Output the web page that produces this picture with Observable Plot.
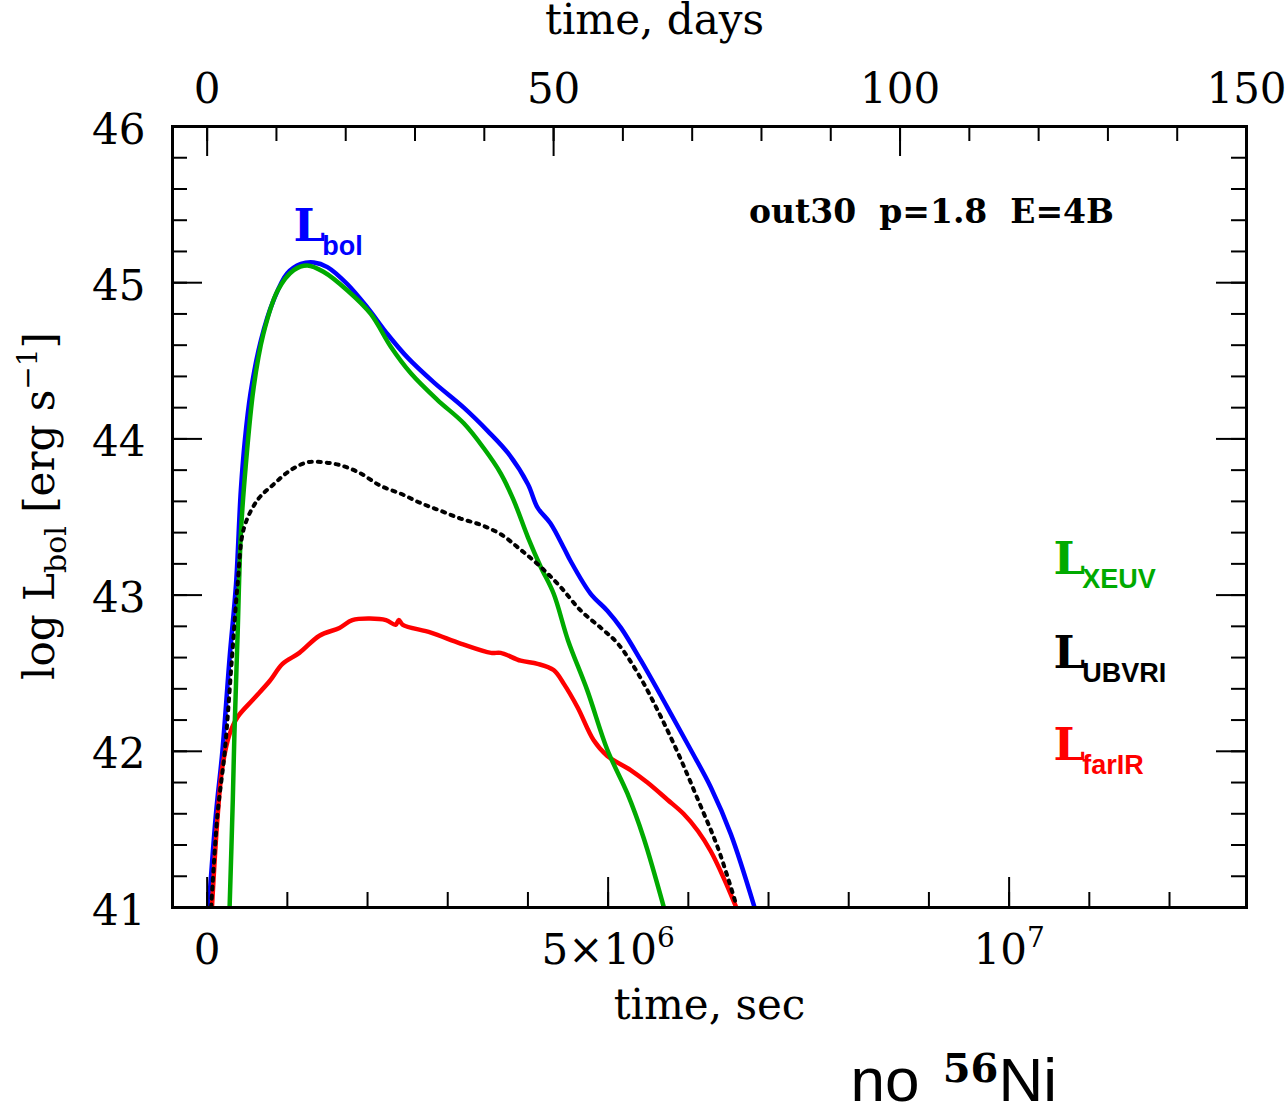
<!DOCTYPE html>
<html><head><meta charset="utf-8">
<script src="https://cdn.jsdelivr.net/npm/d3@7"></script>
<script src="https://cdn.jsdelivr.net/npm/@observablehq/plot@0.6"></script>
<style>html,body{margin:0;padding:0;background:#fff;} svg{display:block}</style>
</head><body><div id="chart"></div>
<script>
// time in units of 10^6 s; log L in erg/s
const tBol   = [0.02, 0.11, 0.19, 0.28, 0.36, 0.42, 0.47, 0.54, 0.67, 0.83, 1.00, 1.17, 1.33, 1.50, 1.75, 2.00, 2.25, 2.50, 2.83, 3.20, 3.50, 3.75, 4.00, 4.12, 4.28, 4.45, 4.53, 4.78, 4.99, 5.16, 5.41, 5.74, 6.03, 6.28, 6.53, 6.82];
const logBol = [41.00, 41.60, 42.00, 42.60, 43.07, 43.67, 43.99, 44.29, 44.63, 44.89, 45.06, 45.12, 45.13, 45.10, 44.99, 44.84, 44.67, 44.52, 44.36, 44.20, 44.05, 43.91, 43.71, 43.56, 43.46, 43.30, 43.22, 43.01, 42.90, 42.79, 42.58, 42.28, 42.01, 41.77, 41.47, 41.01];

const tXEUV   = [0.28, 0.32, 0.34, 0.38, 0.42, 0.48, 0.58, 0.70, 0.88, 1.08, 1.25, 1.45, 1.75, 2.04, 2.29, 2.54, 2.87, 3.20, 3.45, 3.66, 3.82, 4.00, 4.16, 4.32, 4.50, 4.74, 4.99, 5.24, 5.44, 5.69];
const logXEUV = [41.00, 41.69, 42.11, 42.75, 43.39, 43.82, 44.33, 44.67, 44.95, 45.08, 45.11, 45.07, 44.95, 44.80, 44.59, 44.42, 44.25, 44.10, 43.94, 43.78, 43.61, 43.37, 43.18, 43.01, 42.71, 42.39, 42.01, 41.73, 41.45, 41.01];

const tUBVRI   = [0.05, 0.13, 0.22, 0.31, 0.38, 0.46, 0.63, 0.83, 1.04, 1.25, 1.45, 1.67, 1.91, 2.16, 2.41, 2.66, 2.91, 3.16, 3.41, 3.66, 3.91, 4.16, 4.41, 4.66, 4.91, 5.12, 5.37, 5.62, 5.87, 6.12, 6.37, 6.59];
const logUBVRI = [41.00, 41.60, 42.00, 42.60, 43.07, 43.43, 43.61, 43.71, 43.80, 43.85, 43.85, 43.83, 43.78, 43.70, 43.65, 43.59, 43.54, 43.49, 43.45, 43.39, 43.29, 43.18, 43.05, 42.90, 42.79, 42.69, 42.50, 42.26, 41.99, 41.69, 41.38, 41.03];

const tFarIR   = [0.06, 0.13, 0.19, 0.28, 0.38, 0.57, 0.78, 0.94, 1.15, 1.40, 1.65, 1.81, 2.03, 2.23, 2.35, 2.39, 2.44, 2.79, 3.16, 3.54, 3.66, 3.91, 4.12, 4.32, 4.45, 4.62, 4.82, 4.99, 5.28, 5.49, 5.74, 5.94, 6.12, 6.28, 6.44, 6.59];
const logFarIR = [41.00, 41.58, 41.90, 42.11, 42.22, 42.33, 42.45, 42.56, 42.63, 42.74, 42.79, 42.84, 42.85, 42.84, 42.81, 42.84, 42.81, 42.76, 42.69, 42.63, 42.63, 42.58, 42.56, 42.52, 42.43, 42.28, 42.07, 41.97, 41.88, 41.80, 41.69, 41.60, 41.49, 41.36, 41.19, 41.01];

// axis ticks
const xMinorTicks = [0, 1e6, 2e6, 3e6, 4e6, 5e6, 6e6, 7e6, 8e6, 9e6, 10e6, 11e6, 12e6];
const xMajorTicks = [0, 5e6, 1e7];
const xTickLabels = ["0", "5×10^{6}", "10^{7}"];
const topMinorDays = [0, 10, 20, 30, 40, 50, 60, 70, 80, 90, 100, 110, 120, 130, 140, 150];
const topMajorDays = [0, 50, 100, 150];
const topTickLabels = ["0", "50", "100", "150"];
const yMinorTicks = [41, 41.2, 41.4, 41.6, 41.8, 42, 42.2, 42.4, 42.6, 42.8, 43, 43.2, 43.4, 43.6, 43.8, 44, 44.2, 44.4, 44.6, 44.8, 45, 45.2, 45.4, 45.6, 45.8, 46];
const yMajorTicks = [41, 42, 43, 44, 45, 46];
const yTickLabels = ["41", "42", "43", "44", "45", "46"];

const DAY = 86400;
const rows = (t, v) => t.map((d, i) => ({t: d * 1e6, v: v[i]}));

const W = 1285, H = 1106, mL = 172, mR = 39, mT = 126, mB = 199;
const frameW = W - mL - mR, frameH = H - mT - mB;
const serif = "DejaVu Serif";
const sans = "Liberation Sans";
const fs = 42;

const curveLabel = (txt, color, dx, dy) => Plot.text([txt], {
  text: d => d, frameAnchor: "top-left", dx, dy, textAnchor: "start", lineAnchor: "bottom",
  fill: color, fontFamily: serif, fontWeight: "bold", fontSize: 45
});

const lineOpts = {x: "t", y: "v", curve: "catmull-rom", clip: true, strokeLinejoin: "round"};

const plot = Plot.plot({
  width: W, height: H,
  marginLeft: mL, marginRight: mR, marginTop: mT, marginBottom: mB,
  x: {domain: [-5 * DAY, 150 * DAY], axis: null},
  y: {domain: [41, 46], axis: null},
  style: {background: "white", fontFamily: serif, color: "black"},
  marks: [
    Plot.line(rows(tBol, logBol), {...lineOpts, stroke: "#0000ff", strokeWidth: 4.5}),
    Plot.line(rows(tFarIR, logFarIR), {...lineOpts, stroke: "#ff0000", strokeWidth: 4.5}),
    Plot.line(rows(tXEUV, logXEUV), {...lineOpts, stroke: "#00aa00", strokeWidth: 4.5}),
    Plot.line(rows(tUBVRI, logUBVRI), {...lineOpts, stroke: "black", strokeWidth: 4, strokeDasharray: "3,6", strokeLinejoin: "miter"}),

    Plot.frame({stroke: "black", strokeWidth: 3}),
    // bottom ticks
    Plot.tickX(xMinorTicks, {x: d => d, insetTop: frameH - 15, strokeWidth: 2}),
    Plot.tickX(xMajorTicks, {x: d => d, insetTop: frameH - 30, strokeWidth: 2}),
    // top ticks (days)
    Plot.tickX(topMinorDays, {x: d => d * DAY, insetBottom: frameH - 15, strokeWidth: 2}),
    Plot.tickX(topMajorDays, {x: d => d * DAY, insetBottom: frameH - 30, strokeWidth: 2}),
    // left ticks
    Plot.tickY(yMinorTicks, {y: d => d, insetRight: frameW - 15, strokeWidth: 2}),
    Plot.tickY(yMajorTicks, {y: d => d, insetRight: frameW - 30, strokeWidth: 2}),
    // right ticks
    Plot.tickY(yMinorTicks, {y: d => d, insetLeft: frameW - 15, strokeWidth: 2}),
    Plot.tickY(yMajorTicks, {y: d => d, insetLeft: frameW - 30, strokeWidth: 2}),

    // tick labels
    Plot.text(yMajorTicks, {y: d => d, text: (d, i) => yTickLabels[i], frameAnchor: "left", dx: -27, dy: 17,
      textAnchor: "end", lineAnchor: "bottom", fontSize: fs, fill: "black"}),
    Plot.text(xMajorTicks, {x: d => d, text: (d, i) => xTickLabels[i], frameAnchor: "bottom", dy: 56,
      textAnchor: "middle", lineAnchor: "bottom", fontSize: fs, fill: "black"}),
    Plot.text(topMajorDays, {x: d => d * DAY, text: (d, i) => topTickLabels[i], frameAnchor: "top", dy: -24,
      textAnchor: "middle", lineAnchor: "bottom", fontSize: fs, fill: "black"}),

    // axis titles
    Plot.text(["time, sec"], {text: d => d, frameAnchor: "bottom", dy: 111, lineAnchor: "bottom", fontSize: fs, fill: "black"}),
    Plot.text(["time, days"], {text: d => d, frameAnchor: "top", dx: -55, dy: -93, lineAnchor: "bottom", fontSize: fs, fill: "black"}),
    Plot.text(["log L_{bol} [erg s^{−1}]"], {text: d => d, frameAnchor: "left", rotate: -90, dx: -119, dy: -11,
      textAnchor: "middle", lineAnchor: "bottom", fontSize: fs, fill: "black"}),

    // annotations
    Plot.text(["out30\u00a0\u00a0p=1.8\u00a0\u00a0E=4B"], {text: d => d, frameAnchor: "top-left", dx: 759, dy: 96,
      textAnchor: "middle", lineAnchor: "bottom", fontSize: 33, fontWeight: "bold", fill: "black"}),
    curveLabel("L_{bol}", "#0000ff", 121, 114),
    curveLabel("L_{XEUV}", "#00aa00", 881, 447),
    curveLabel("L_{UBVRI}", "black", 881, 541),
    curveLabel("L_{farIR}", "#ff0000", 881, 633),
    Plot.text(["no ^{56}Ni"], {text: d => d, frameAnchor: "bottom-left", dx: 678, dy: 193,
      textAnchor: "start", lineAnchor: "bottom", fontSize: 62, fontFamily: sans, fill: "black"})
  ]
});

// rich text: sub/superscripts
const subL = {size: 27, shift: 14, family: sans, weight: "bold", dx: -3};
const rich = {
  "L_{bol}": {sub: subL},
  "L_{XEUV}": {sub: subL},
  "L_{UBVRI}": {sub: subL},
  "L_{farIR}": {sub: subL},
  "log L_{bol} [erg s^{−1}]": {sub: {size: 30, shift: 12, family: serif}, sup: {size: 28, shift: 17, family: serif}},
  "5×10^{6}": {sup: {size: 28, shift: 17, family: serif}},
  "10^{7}": {sup: {size: 28, shift: 17, family: serif}},
  "no ^{56}Ni": {sup: {size: 40, shift: 19, family: serif, weight: "bold", dx: 6}}
};
d3.select(plot).selectAll("text").each(function () {
  const raw = this.textContent;
  const st = rich[raw];
  if (!st) return;
  const parts = raw.split(/(_\{[^}]*\}|\^\{[^}]*\})/).filter(s => s !== "");
  while (this.firstChild) this.removeChild(this.firstChild);
  let off = 0;
  for (const p of parts) {
    const ts = d3.select(this).append("tspan");
    let target = 0, txt = p, cfg = null;
    if (p.startsWith("_{")) { cfg = st.sub; target = cfg.shift; txt = p.slice(2, -1); }
    else if (p.startsWith("^{")) { cfg = st.sup; target = -cfg.shift; txt = p.slice(2, -1); }
    if (target !== off) ts.attr("dy", target - off);
    off = target;
    if (cfg) {
      ts.attr("font-size", cfg.size);
      if (cfg.family) ts.attr("font-family", cfg.family);
      if (cfg.weight) ts.attr("font-weight", cfg.weight);
      if (cfg.dx) ts.attr("dx", cfg.dx);
    }
    ts.text(txt);
  }
});

document.getElementById("chart").appendChild(plot);
</script>
</body></html>
